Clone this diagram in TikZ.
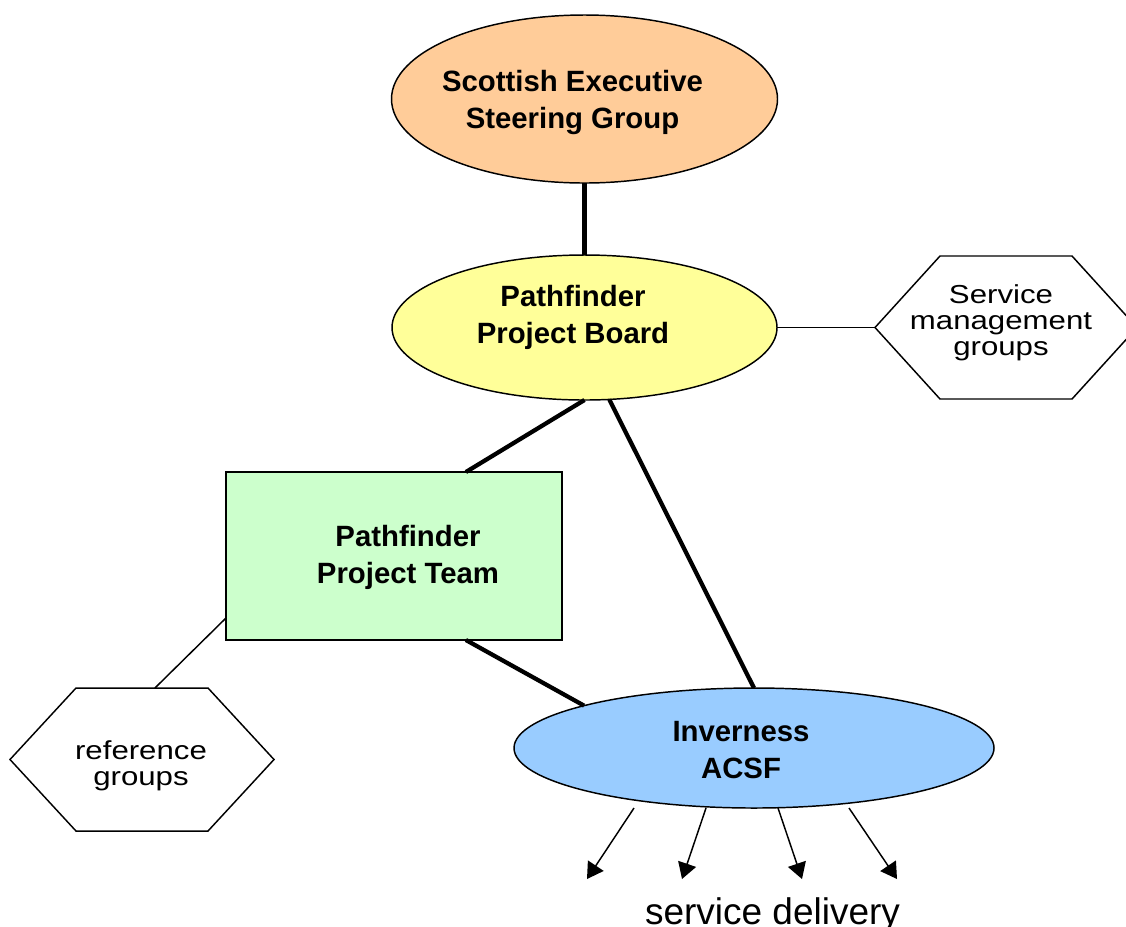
\documentclass[tikz,border=0pt]{standalone}
\usepackage{fontspec}
\setmainfont{Liberation Sans}
\newfontfamily\hexfont[FakeStretch=1.2]{Liberation Sans}
\newcommand\hexsetup{\hexfont\fontsize{19.5}{19.5}\selectfont\lineskiplimit -30pt\relax}
\usetikzlibrary{shapes.geometric,arrows.meta,calc}
\definecolor{cOrange}{HTML}{FFCC99}
\definecolor{cYellow}{HTML}{FFFF99}
\definecolor{cGreen}{HTML}{CCFFCC}
\definecolor{cBlue}{HTML}{99CCFF}
\tikzset{
  shapeline/.style={draw=black, line width=1.1pt, inner sep=0pt, outer sep=0pt},
  ellbox/.style={shapeline, ellipse},
  hexholder/.style={inner sep=0pt, outer sep=0pt, minimum width=197pt, minimum height=107.25pt},
  hexline/.style={draw=black, line width=1.1pt, fill=white, line join=miter},
  boldtext/.style={align=center, inner sep=0pt, font=\fontsize{22}{27.75}\selectfont\bfseries},
  hextext/.style={align=center, inner sep=0pt, font=\hexsetup},
  thickcon/.style={line width=3.2pt},
  thincon/.style={line width=1.1pt},
  arr/.style={line width=1.1pt, -{Triangle[length=12pt,width=14pt]}}
}
\begin{document}
\begin{tikzpicture}[x=0.75pt,y=-0.75pt]
\useasboundingbox (0,0) rectangle (1126,926);

% shapes
\node[ellbox, fill=cOrange, minimum width=289.5pt, minimum height=126pt] (orange) at (584.5,99) {};
\node[ellbox, fill=cYellow, minimum width=288.75pt, minimum height=108.75pt] (yellow) at (584.5,327.5) {};
\node[shapeline, rectangle, fill=cGreen, minimum width=252pt, minimum height=126pt] (green) at (394,556) {};
\node[ellbox, fill=cBlue, minimum width=360pt, minimum height=90pt] (blue) at (754,748) {};

\node[hexholder, minimum width=196.5pt] (rhex) at (1006,327.5) {};
\draw[hexline] (rhex.west) -- ($(rhex.north west)+(65,0)$) -- ($(rhex.north east)+(-65,0)$) -- (rhex.east)
  -- ($(rhex.south east)+(-65,0)$) -- ($(rhex.south west)+(65,0)$) -- cycle;
\node[hexholder, minimum width=198pt] (lhex) at (142,759.5) {};
\draw[hexline] (lhex.west) -- ($(lhex.north west)+(66,0)$) -- ($(lhex.north east)+(-66,0)$) -- (lhex.east)
  -- ($(lhex.south east)+(-66,0)$) -- ($(lhex.south west)+(66,0)$) -- cycle;

% texts
\node[boldtext] (tOrange) at (572.5,102.1) {\strut Scottish Executive\\\strut Steering Group};
\node[boldtext] (tYellow) at (573,317.1) {\strut Pathfinder\\\strut Project Board};
\node[boldtext] (tGreen) at (408,557.1) {\strut Pathfinder\\\strut Project Team};
\node[boldtext] (tBlue) at (741,752.6) {\strut Inverness\\\strut ACSF};
\node[hextext] (tRhex) at (1001,323.8) {\strut Service\\\strut management\\\strut groups};
\node[hextext] (tLhex) at (141,766.8) {\strut reference\\\strut groups};
\node[anchor=base, inner sep=0pt, font=\fontsize{27.75}{33}\selectfont] (tDel) at (772.5,924) {service delivery};

% connectors
\draw[thickcon] (orange.south) -- (yellow.north);
\draw[thincon] (yellow.east) -- (rhex.west);
\draw[thickcon] (yellow.south) -- ($(green.north west)!0.714!(green.north east)$);
\draw[thickcon] (yellow.-71) -- (blue.north);
\draw[thickcon] ($(green.south west)!0.714!(green.south east)$) -- (blue.166);
\draw[thincon] ($(green.south west)!0.131!(green.north west)$) -- ($(lhex.north west)!0.549!(lhex.north east)$);

% service delivery arrows
\coordinate (s1) at (634,808); \coordinate (e1) at (587,879);
\coordinate (s2) at (706,808); \coordinate (e2) at (682,879);
\coordinate (s3) at (778,808); \coordinate (e3) at (802,879);
\coordinate (s4) at (849,808); \coordinate (e4) at (897,879);
\draw[arr] (s1) -- (e1);
\draw[arr] (s2) -- (e2);
\draw[arr] (s3) -- (e3);
\draw[arr] (s4) -- (e4);
\end{tikzpicture}
\end{document}
